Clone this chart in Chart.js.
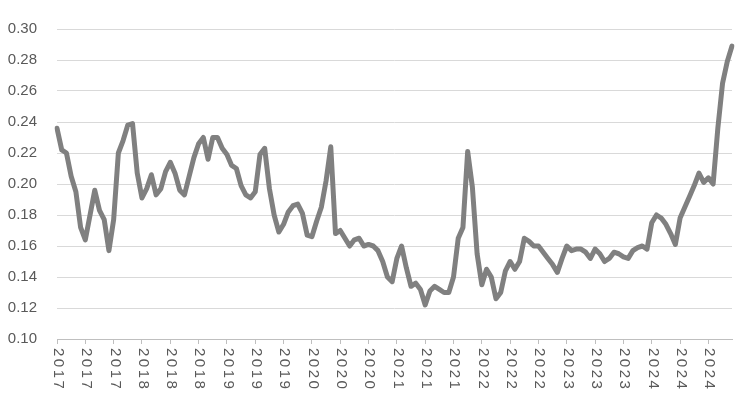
<!DOCTYPE html>
<html>
<head>
<meta charset="utf-8">
<script src="https://cdn.jsdelivr.net/npm/chart.js@4"></script>
<style>
  html, body { margin: 0; padding: 0; background: #fff; }
  #wrap { width: 739px; height: 393px; }
</style>
</head>
<body>
<div id="wrap"><canvas id="chart"></canvas></div>
<script>
// one label every 6 points
const yearLabels = ['2017', '2017', '2017', '2018', '2018', '2018', '2019', '2019', '2019',
  '2020', '2020', '2020', '2021', '2021', '2021', '2022', '2022', '2022',
  '2023', '2023', '2023', '2024', '2024', '2024']
const pointsPerLabel = 6

const values = [
  0.236, 0.222, 0.220, 0.205, 0.195, 0.172, 0.164, 0.180, 0.196, 0.183,
  0.177, 0.157, 0.177, 0.220, 0.228, 0.238, 0.239, 0.207, 0.191, 0.197,
  0.206, 0.193, 0.197, 0.208, 0.214, 0.207, 0.196, 0.193, 0.205, 0.217,
  0.226, 0.230, 0.216, 0.230, 0.230, 0.223, 0.219, 0.212, 0.210, 0.199,
  0.193, 0.191, 0.195, 0.219, 0.223, 0.197, 0.180, 0.169, 0.174, 0.182,
  0.186, 0.187, 0.181, 0.167, 0.166, 0.176, 0.185, 0.202, 0.224, 0.168,
  0.170, 0.165, 0.160, 0.164, 0.165, 0.160, 0.161, 0.160, 0.157, 0.150,
  0.140, 0.137, 0.152, 0.160, 0.146, 0.134, 0.136, 0.132, 0.122, 0.131,
  0.134, 0.132, 0.130, 0.130, 0.140, 0.165, 0.172, 0.221, 0.198, 0.155,
  0.135, 0.145, 0.140, 0.126, 0.130, 0.144, 0.150, 0.145, 0.150, 0.165,
  0.163, 0.160, 0.160, 0.156, 0.152, 0.148, 0.143, 0.152, 0.160, 0.157,
  0.158, 0.158, 0.156, 0.152, 0.158, 0.155, 0.150, 0.152, 0.156, 0.155,
  0.153, 0.152, 0.157, 0.159, 0.160, 0.158, 0.175, 0.180, 0.178, 0.174,
  0.168, 0.161, 0.178, 0.185, 0.192, 0.199, 0.207, 0.201, 0.204, 0.200,
  0.236, 0.265, 0.279, 0.289
]

const pointLabels = values.map((v, i) => yearLabels[Math.floor(i / pointsPerLabel)] || '')

// excel style labels, rotated clockwise
const rotatedLabels = {
  id: 'rotatedLabels',
  afterDraw (chart) {
    const ctx = chart.ctx
    const xScale = chart.scales.x
    ctx.save()
    ctx.fillStyle = '#595959'
    ctx.font = '15px "Liberation Sans", Arial, sans-serif'
    if ('letterSpacing' in ctx) ctx.letterSpacing = '2.5px'
    ctx.textAlign = 'left'
    ctx.textBaseline = 'middle'
    yearLabels.forEach((label, k) => {
      const x = xScale.getPixelForTick(k * pointsPerLabel)
      ctx.save()
      ctx.translate(x + 1, 348)
      ctx.rotate(Math.PI / 2)
      ctx.fillText(label, 0, 0)
      ctx.restore()
    })
    ctx.restore()
  }
}

new Chart(document.getElementById('chart'), {
  type: 'line',
  data: {
    labels: pointLabels,
    datasets: [
      {
        data: values,
        borderColor: '#808080',
        borderWidth: 5,
        borderCapStyle: 'round',
        borderJoinStyle: 'round',
        pointRadius: 0,
        tension: 0
      }
    ]
  },
  options: {
    responsive: true,
    maintainAspectRatio: false,
    animation: false,
    layout: {
      padding: { top: 17, right: 7, left: 0, bottom: 0 }
    },
    plugins: {
      legend: { display: false },
      tooltip: { enabled: false }
    },
    scales: {
      x: {
        type: 'category',
        offset: false,
        ticks: { display: false, autoSkip: false },
        grid: {
          drawOnChartArea: false,
          drawTicks: true,
          tickLength: 5,
          tickColor: ctx => ctx.index % pointsPerLabel === 0 ? '#bfbfbf' : 'rgba(0,0,0,0)'
        },
        border: { color: '#bfbfbf', width: 1 },
        afterFit (scale) { scale.height = 54 }
      },
      y: {
        min: 0.10,
        max: 0.30,
        ticks: {
          stepSize: 0.02,
          padding: 20,
          color: '#595959',
          font: { family: '"Liberation Sans", Arial, sans-serif', size: 15 },
          callback: v => v.toFixed(2)
        },
        grid: { color: '#d9d9d9', drawTicks: false },
        border: { display: false },
        afterFit (scale) { scale.width = 57 }
      }
    }
  },
  plugins: [rotatedLabels]
})
</script>
</body>
</html>
